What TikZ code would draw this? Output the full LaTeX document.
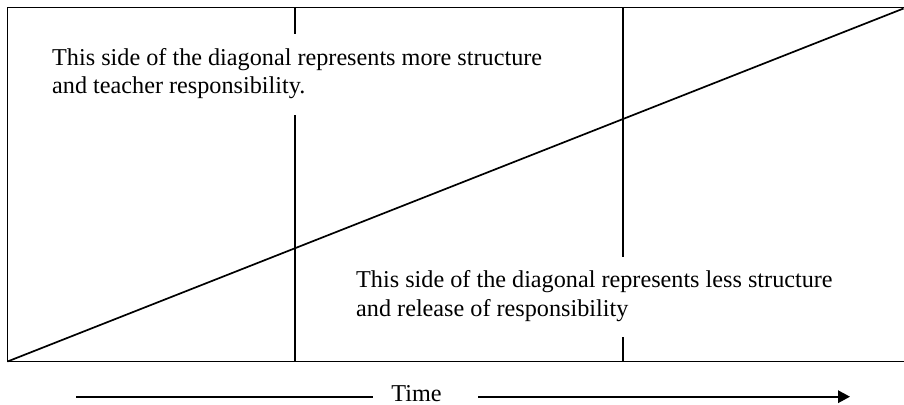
\documentclass[tikz,border=0pt]{standalone}
\usepackage{fontspec}
\setmainfont{Liberation Serif}
\usetikzlibrary{arrows.meta}
\begin{document}
\begin{tikzpicture}[x=1pt,y=-1pt,
  frame/.style={line width=1.7pt,black},
  lbl/.style={anchor=base west,inner sep=0pt,font=\fontsize{24.2}{28}\selectfont},
  timelbl/.style={anchor=base,inner sep=0pt,font=\fontsize{24.2}{28}\selectfont}]
\useasboundingbox (0,0) rectangle (904,404);
% frame corners
\coordinate (tl) at (7.5,7.5);
\coordinate (bl) at (7.5,361.5);
\coordinate (tr) at (904,7.5);
\coordinate (br) at (904,361.5);
\coordinate (dtop) at (903.5,8.5);
\draw[frame] (tr) -- (tl) -- (bl) -- (br);
\draw[frame] (bl) -- (dtop);
% vertical dividers
\coordinate (a1) at (295,7.5);
\coordinate (a2) at (295,34);
\coordinate (a3) at (295,115);
\coordinate (a4) at (295,361.5);
\coordinate (b1) at (623,7.5);
\coordinate (b2) at (623,257);
\coordinate (b3) at (623,337);
\coordinate (b4) at (623,361.5);
\draw[frame] (a1) -- (a2);
\draw[frame] (a3) -- (a4);
\draw[frame] (b1) -- (b2);
\draw[frame] (b3) -- (b4);
% texts
\node[lbl] (t1a) at (52,65.7) {This side of the diagonal represents more structure};
\node[lbl] (t1b) at (52,93.5) {and teacher responsibility.};
\node[lbl] (t2a) at (356,287.7) {This side of the diagonal represents less structure};
\node[lbl] (t2b) at (356,316.7) {and release of responsibility};
% time arrow
\node[timelbl] (time) at (416.5,401) {Time};
\coordinate (ls) at (76,396.7);
\coordinate (le) at (373,396.7);
\coordinate (rs) at (478,396.7);
\coordinate (re) at (850,396.7);
\draw[frame] (ls) -- (le);
\draw[frame,-{Triangle[length=12pt,width=12.5pt]}] (rs) -- (re);
\end{tikzpicture}
\end{document}
